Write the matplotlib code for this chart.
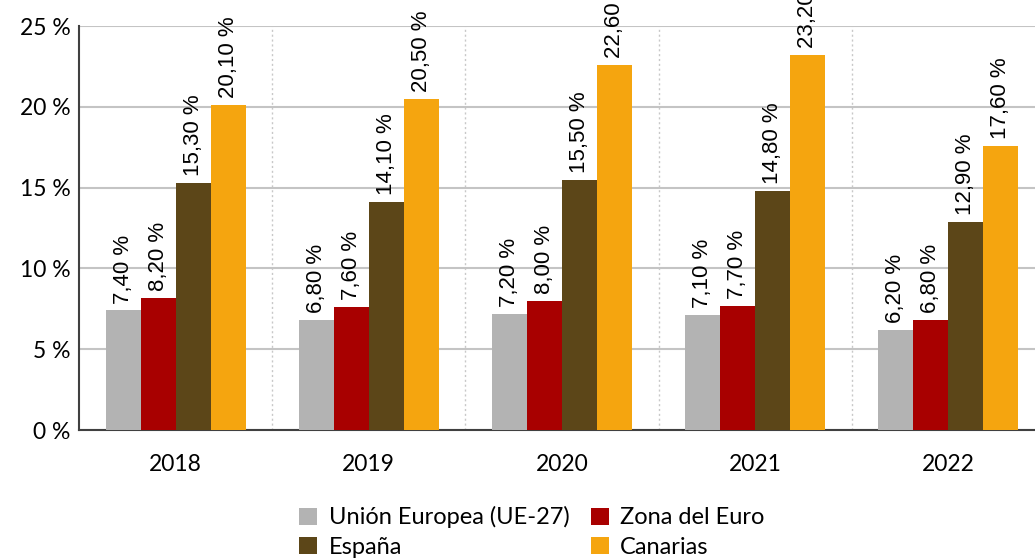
import matplotlib.pyplot as plt
import numpy as np

years = ["2018", "2019", "2020", "2021", "2022"]
series = ["Unión Europea (UE-27)", "Zona del Euro", "España", "Canarias"]
ue27 = [7.40, 6.80, 7.20, 7.10, 6.20]
euro = [8.20, 7.60, 8.00, 7.70, 6.80]
espana = [15.30, 14.10, 15.50, 14.80, 12.90]
canarias = [20.10, 20.50, 22.60, 23.20, 17.60]
colors = ["#b3b3b3", "#a80000", "#5c4618", "#f5a50f"]

fig = plt.figure(figsize=(10.35, 5.6), dpi=100)
ax = fig.add_axes([0.0763, 0.2321, 0.9334, 0.7214])

X = np.arange(len(years))
w = 0.181
bars = []
for i, (vals, name, c) in enumerate(zip([ue27, euro, espana, canarias], series, colors)):
    xs = X + (i - 1.5) * w
    bars.append(ax.bar(xs, vals, width=w, color=c, label=name, zorder=3))
    for x, v in zip(xs, vals):
        ax.annotate(("%.2f %%" % v).replace(".", ","), (x, v), xytext=(0, 5),
                    textcoords="offset points", rotation=90, ha="center", va="bottom",
                    fontsize=16, family="Liberation Sans", annotation_clip=False, zorder=4)

ax.set_xlim(-0.5, 4.5)
ax.set_ylim(0, 25)
ax.set_yticks(range(0, 26, 5))
ax.set_yticklabels(["%d %%" % t for t in range(0, 26, 5)], fontsize=16.5, family="Lato")
ax.set_xticks(X)
ax.set_xticklabels(years, fontsize=16.5, family="Lato")
ax.tick_params(axis="both", length=0)
ax.tick_params(axis="x", pad=17)
ax.tick_params(axis="y", pad=6)
ax.yaxis.grid(True, color="#c4c4c4", linewidth=1.5, zorder=0)
for b in X[:-1] + 0.5:
    ax.axvline(b, color="#c8c8c8", linestyle=(0, (1.5, 2)), linewidth=1, zorder=0)
for s in ["top", "right"]:
    ax.spines[s].set_visible(False)
ax.spines["left"].set_color("#404040")
ax.spines["left"].set_linewidth(1.5)
ax.spines["bottom"].set_color("#404040")
ax.spines["bottom"].set_linewidth(1.5)

# legend order: row 1 UE-27 / Zona del Euro, row 2 España / Canarias
order = [0, 2, 1, 3]
fig.legend([bars[i] for i in order], [series[i] for i in order],
           loc="center", bbox_to_anchor=(0.514, 0.05), ncol=2, frameon=False,
           prop={"family": "Lato", "size": 17}, handlelength=0.75, handleheight=0.75,
           handletextpad=0.5, columnspacing=0.9, labelspacing=0.35)

plt.savefig("out.png")
